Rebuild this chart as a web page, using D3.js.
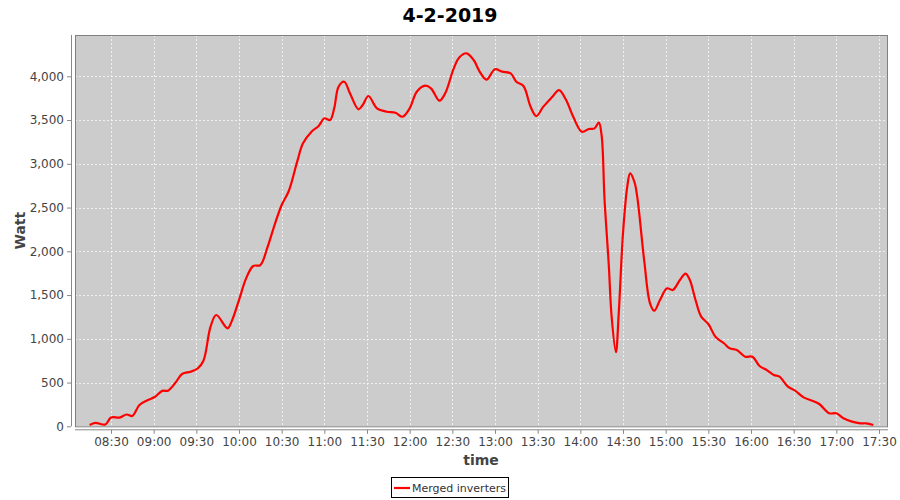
<!DOCTYPE html>
<html>
<head>
<meta charset="utf-8">
<script src="https://cdn.jsdelivr.net/npm/d3@7"></script>
<style>
  body { margin: 0; background: #fff; }
  svg { display: block; }
  text { font-family: "DejaVu Sans", sans-serif; }
</style>
</head>
<body>
<svg id="chart" width="900" height="500"></svg>
<script>
const chartTitle = "4-2-2019";
const seriesName = "Merged inverters";
const xLabel = "time";
const yLabel = "Watt";

const times = ["08:15","08:19","08:26","08:30","08:36","08:41","08:45","08:50","08:56","09:01",
"09:06","09:10","09:15","09:20","09:26","09:31","09:35","09:40","09:44","09:52",
"09:55","10:00","10:05","10:10","10:15","10:20","10:25","10:30","10:35","10:41",
"10:45","10:51","10:56","11:00","11:04","11:07","11:10","11:14","11:18","11:24",
"11:27","11:31","11:37","11:44","11:50","11:55","12:00","12:05","12:11","12:15",
"12:21","12:25","12:31","12:35","12:40","12:45","12:49","12:54","13:00","13:05",
"13:11","13:15","13:20","13:25","13:29","13:34","13:40","13:45","13:50","13:55",
"14:01","14:06","14:10","14:13","14:15","14:17","14:20","14:22","14:25","14:27",
"14:30","14:33","14:35","14:38","14:40","14:45","14:49","14:52","14:56","15:01",
"15:05","15:10","15:14","15:17","15:21","15:25","15:30","15:35","15:41","15:45",
"15:50","15:56","16:01","16:06","16:11","16:16","16:20","16:26","16:31","16:37",
"16:43","16:48","16:55","17:00","17:05","17:11","17:17","17:21","17:26"];

const watts = [15,40,20,100,100,135,118,243,300,338,
405,407,491,598,624,663,750,1138,1272,1120,
1205,1443,1691,1832,1843,2046,2300,2529,2689,3030,
3234,3367,3432,3520,3500,3640,3881,3938,3806,3623,
3672,3775,3634,3595,3584,3538,3634,3824,3893,3863,
3721,3806,4091,4217,4263,4186,4060,3962,4080,4053,
4034,3938,3889,3653,3546,3653,3760,3843,3729,3538,
3367,3398,3405,3470,3320,2600,1843,1253,846,1291,
2206,2739,2891,2795,2624,1881,1406,1321,1443,1577,
1558,1672,1745,1672,1443,1253,1169,1024,949,891,
872,795,795,689,643,586,567,453,407,331,
293,255,149,149,91,53,34,34,15];

const xTickLabels = ["08:30","09:00","09:30","10:00","10:30","11:00","11:30","12:00","12:30",
"13:00","13:30","14:00","14:30","15:00","15:30","16:00","16:30","17:00","17:30"];
const yTickValues = [0,500,1000,1500,2000,2500,3000,3500,4000];

const parseT = d3.timeParse("%H:%M");
const data = times.map((t, i) => ({ t: parseT(t), v: watts[i] }));

const svg = d3.select("#chart");
const L = 75, R = 888, T = 35, B = 426.3;

const xt0 = parseT("08:30"), xt1 = parseT("17:30");
const pxPerMs = (879 - 111) / (xt1 - xt0);
const x = d3.scaleTime()
  .domain([new Date(+xt0 - (111 - L) / pxPerMs), new Date(+xt0 + (R - 111) / pxPerMs)])
  .range([L, R]);

const y = d3.scaleLinear().domain([0, (B - T) / 0.0875]).range([B, T]);

// plot background
svg.append("rect").attr("x", L).attr("y", T).attr("width", R - L).attr("height", B - T)
  .attr("fill", "#cccccc");

// gridlines
const g = svg.append("g");
xTickLabels.forEach(s => {
  const px = Math.round(x(parseT(s))) + 0.5;
  g.append("line").attr("x1", px).attr("x2", px).attr("y1", T).attr("y2", B)
    .attr("stroke", "#ffffff").attr("stroke-width", 0.7).attr("stroke-dasharray", "2,2");
});
yTickValues.forEach(v => {
  const py = Math.round(y(v)) + 0.5;
  g.append("line").attr("x1", L).attr("x2", R).attr("y1", py).attr("y2", py)
    .attr("stroke", "#ffffff").attr("stroke-width", 0.7).attr("stroke-dasharray", "2,2");
});

// plot border
svg.append("rect").attr("x", L + 0.5).attr("y", T + 0.5).attr("width", R - L - 1).attr("height", B - T)
  .attr("fill", "none").attr("stroke", "#808080").attr("stroke-width", 1);

// line
const line = d3.line().x(d => x(d.t)).y(d => y(d.v)).curve(d3.curveCatmullRom.alpha(0.5));
svg.append("path").datum(data).attr("d", line)
  .attr("fill", "none").attr("stroke", "#ff0000").attr("stroke-width", 2.2)
  .attr("stroke-linejoin", "round");

// y axis
const yAxis = d3.axisLeft(y).tickValues(yTickValues).tickFormat(d3.format(",")).tickSize(4).tickPadding(3);
const ya = svg.append("g").attr("transform", `translate(${L - 4},0)`).call(yAxis);
ya.select(".domain").attr("stroke", "#888").attr("d", `M-0,${T}V${B}`).attr("transform", "translate(0.5,0)");
ya.selectAll(".tick line").attr("stroke", "#888");
ya.selectAll("text").attr("fill", "#444").style("font-size", "12px").style("font-family", "DejaVu Sans, sans-serif");

// x axis
const xAxis = d3.axisBottom(x).tickValues(xTickLabels.map(parseT)).tickFormat(d3.timeFormat("%H:%M")).tickSize(4).tickPadding(4);
const xa = svg.append("g").attr("transform", `translate(0,${B + 3.5})`).call(xAxis);
xa.select(".domain").attr("stroke", "#888").attr("d", `M${L},0H${R}`);
xa.selectAll(".tick line").attr("stroke", "#888");
xa.selectAll("text").attr("fill", "#444").style("font-size", "12px").style("font-family", "DejaVu Sans, sans-serif");

// title
svg.append("text").attr("x", 450).attr("y", 22).attr("text-anchor", "middle")
  .style("font-size", "19px").style("font-weight", "bold").attr("fill", "#000").text(chartTitle);

// axis labels
svg.append("text").attr("x", 481).attr("y", 465).attr("text-anchor", "middle")
  .style("font-size", "14px").style("font-weight", "bold").attr("fill", "#444").text(xLabel);
svg.append("text").attr("transform", `translate(25,${(T + B) / 2}) rotate(-90)`).attr("text-anchor", "middle")
  .style("font-size", "14px").style("font-weight", "bold").attr("fill", "#444").text(yLabel);

// legend
const lg = svg.append("g");
lg.append("rect").attr("x", 391.5).attr("y", 477.5).attr("width", 117).attr("height", 20)
  .attr("fill", "#fff").attr("stroke", "#000").attr("stroke-width", 1);
lg.append("line").attr("x1", 394).attr("x2", 410).attr("y1", 488).attr("y2", 488)
  .attr("stroke", "#ff0000").attr("stroke-width", 2.2);
lg.append("text").attr("x", 412).attr("y", 492).style("font-size", "11px").attr("fill", "#333").text(seriesName);
</script>
</body>
</html>
